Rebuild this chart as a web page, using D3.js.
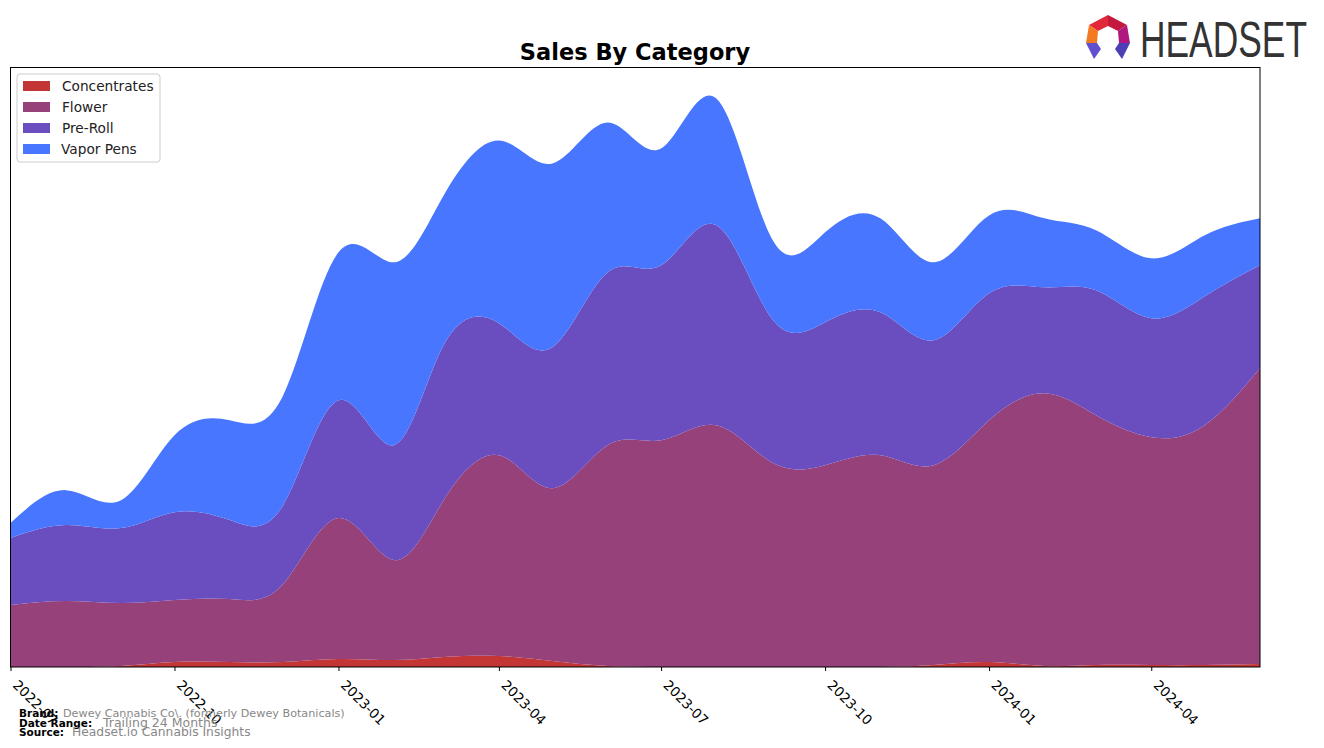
<!DOCTYPE html>
<html><head><meta charset="utf-8">
<script src="https://cdn.jsdelivr.net/npm/d3@7"></script>
<style>body{margin:0;background:#fff;} svg{display:block;font-family:"DejaVu Sans",sans-serif;}</style>
</head><body>
<svg id="chart" width="1324" height="748"></svg>
<script>
const months = ["2022-07","2022-08","2022-09","2022-10","2022-11","2022-12","2023-01","2023-02","2023-03","2023-04","2023-05","2023-06","2023-07","2023-08","2023-09","2023-10","2023-11","2023-12","2024-01","2024-02","2024-03","2024-04","2024-05","2024-06"];
const categories = ["Concentrates","Flower","Pre-Roll","Vapor Pens"];
const concentrates = [0,0,1,5,5,5,8,7,10,11,6,1,0,0,0,0,0,2,5,1,2,2,2,3];
const flower = [62,66,63,62,63,78,141,100,157,201,173,221,227,242,205,202,212,200,242,273,250,228,240,296];
const preRoll = [67,76,75,88,79,79,118,115,155,132,141,173,175,200,144,143,143,125,127,106,125,119,129,103];
const vaporPens = [15,35,28,77,100,110,148,183,150,183,184,150,117,127,80,90,94,78,78,69,60,60,61,47];
const tickLabels = ["2022-07","2022-10","2023-01","2023-04","2023-07","2023-10","2024-01","2024-04"];
const colors = ["#c43535","#964179","#6a4ebf","#4876ff"];

const svg = d3.select("#chart");
const parse = d3.timeParse("%Y-%m");
const L = 10.5, R = 1260, T = 67.5, B = 667;
const x = d3.scaleTime().domain([parse(months[0]), parse(months[months.length-1])]).range([L, R]);
const y = d3.scaleLinear().domain([0, 600]).range([B, T]);

const rows = months.map((m,i)=>({date:parse(m), "Concentrates":concentrates[i], "Flower":flower[i], "Pre-Roll":preRoll[i], "Vapor Pens":vaporPens[i]}));
const stack = d3.stack().keys(categories)(rows);
const area = d3.area().curve(d3.curveNatural).x(d=>x(d.data.date)).y0(d=>y(d[0])).y1(d=>y(d[1]));

svg.append("clipPath").attr("id","clip").append("rect").attr("x",L).attr("y",T).attr("width",R-L).attr("height",B-T);
const g = svg.append("g").attr("clip-path","url(#clip)");
g.selectAll("path").data(stack).join("path").attr("d",area).attr("fill",(d,i)=>colors[i]);

// frame
svg.append("rect").attr("x",L).attr("y",T).attr("width",R-L).attr("height",B-T).attr("fill","none").attr("stroke","#000").attr("stroke-width",1);

// x axis
const ax = svg.append("g").attr("transform",`translate(0,${B})`)
  .call(d3.axisBottom(x).tickValues(tickLabels.map(parse)).tickFormat(d3.timeFormat("%Y-%m")).tickSize(4).tickSizeOuter(0));
ax.select(".domain").remove();
ax.selectAll("line").attr("stroke","#000");
ax.selectAll("text").attr("font-size",13.5).attr("fill","#000").attr("font-family","DejaVu Sans")
  .attr("text-anchor","start").attr("dy",null).attr("y",0).attr("x",0)
  .attr("transform","translate(1,19) rotate(45)");

// title
svg.append("text").attr("x",635).attr("y",60).attr("text-anchor","middle").attr("font-size",22.5).attr("font-weight","bold").text("Sales By Category");

// legend
const lg = svg.append("g");
lg.append("rect").attr("x",17).attr("y",74).attr("width",143).attr("height",88).attr("rx",3).attr("fill","#fff").attr("fill-opacity",0.8).attr("stroke","#ccc");
categories.forEach((c,i)=>{
  const yy = 86 + i*21;
  lg.append("rect").attr("x",23).attr("y",yy-5).attr("width",27).attr("height",10).attr("fill",colors[i]);
  lg.append("text").attr("x",i===3?61:62).attr("y",yy+5).attr("font-size",13.7).attr("fill","#222").text(c);
});

// footer
const ft = svg.append("g");
const lab = (xx,yy,t)=>ft.append("text").attr("x",xx).attr("y",yy).attr("font-size",10.5).attr("font-weight","bold").text(t);
const val = (xx,yy,t,fs)=>ft.append("text").attr("x",xx).attr("y",yy).attr("font-size",fs).attr("fill","#888").text(t);
lab(19,717,"Brand:"); val(63,717,"Dewey Cannabis Co\\. (formerly Dewey Botanicals)",11.2);
lab(19,727,"Date Range:"); val(103,727,"Trailing 24 Months",12.5);
lab(19,736,"Source:"); val(72,736,"Headset.io Cannabis Insights",12.3);

// logo
const lo = svg.append("g").attr("transform","translate(1108,37)");
lo.append("polygon").attr("points","0,-22 19,-12 10,-6 0,-11").attr("fill","#c3193f");
lo.append("polygon").attr("points","0,-22 -19,-12 -10,-6 0,-11").attr("fill","#e0283a");
lo.append("polygon").attr("points","19,-12 22,6 11,6 10,-6").attr("fill","#b0177f");
lo.append("polygon").attr("points","-19,-12 -22,6 -11,6 -10,-6").attr("fill","#f37a22");
lo.append("polygon").attr("points","22,6 14,22 7,12 11,6").attr("fill","#4a3fb5");
lo.append("polygon").attr("points","-22,6 -14,22 -7,12 -11,6").attr("fill","#6050d0");
svg.append("text").attr("x",1140).attr("y",57).attr("font-size",50).attr("font-family","Liberation Sans Narrow, Liberation Sans, sans-serif")
  .attr("fill","#333").attr("textLength",167).attr("lengthAdjust","spacingAndGlyphs").text("HEADSET");
</script>
</body></html>
